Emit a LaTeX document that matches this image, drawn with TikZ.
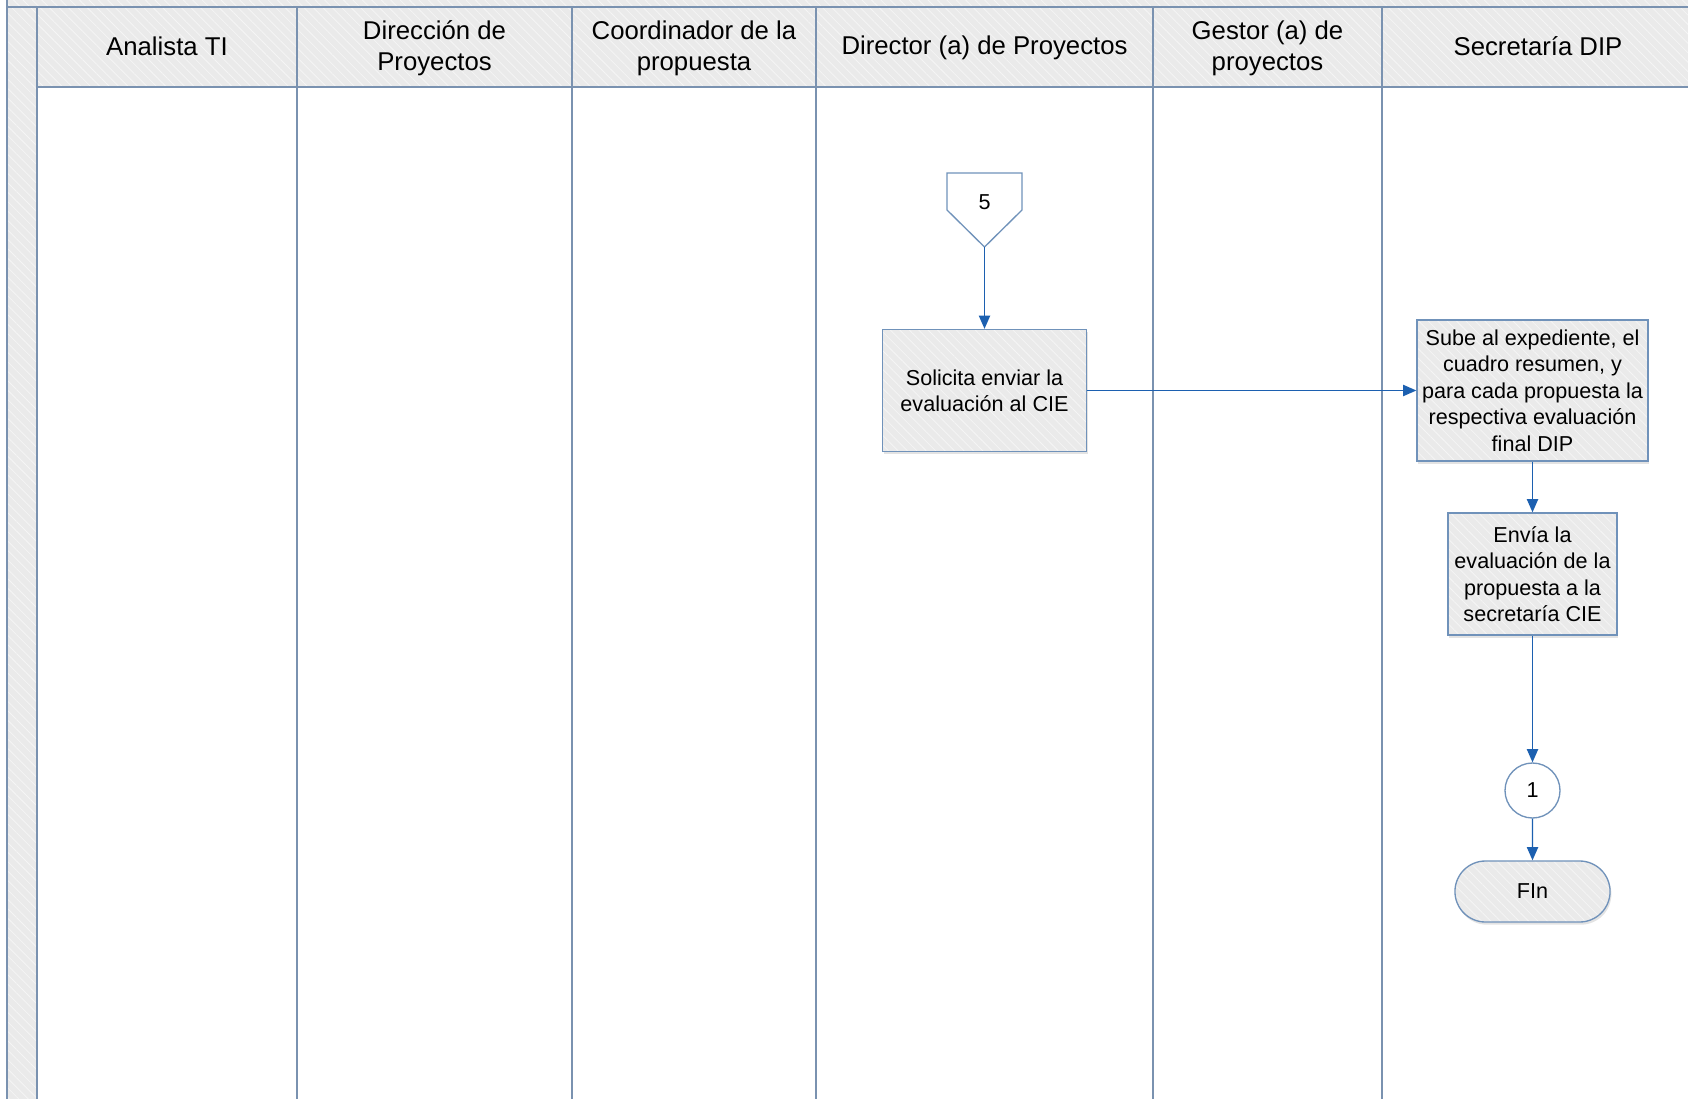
\documentclass[tikz,border=0pt]{standalone}
\usepackage{fontspec}
\setmainfont{Liberation Sans}
\usetikzlibrary{arrows.meta,shapes.misc,shadows,patterns.meta}

\definecolor{laneline}{RGB}{122,146,176}
\definecolor{shapeline}{RGB}{112,146,186}
\definecolor{flowblue}{RGB}{28,96,176}
\definecolor{panegrey}{RGB}{234,234,234}
\definecolor{hatchgrey}{RGB}{245,245,245}

\tikzset{every picture/.style={line width=0.75pt}}
\tikzset{
  hatched/.style={preaction={fill=panegrey},pattern={Lines[angle=-45,distance=5pt,line width=0.6pt]},pattern color=hatchgrey},
  softshadow/.style={drop shadow={opacity=0.22,shadow xshift=1pt,shadow yshift=-2pt}},
  lanehead/.style={font=\fontsize{19.3}{23.2}\selectfont,align=center},
  procbox/.style={draw=shapeline,line width=1pt,softshadow,hatched,align=center,inner sep=2pt,font=\fontsize{16.2}{19.8}\selectfont},
  connector/.style={circle,draw=shapeline,line width=1pt,fill=white,minimum size=41.25pt,inner sep=0pt,font=\fontsize{16.2}{19.8}\selectfont},
  terminal/.style={rounded rectangle,draw=shapeline,line width=1pt,softshadow,hatched,minimum width=123pt,minimum height=45.75pt,font=\fontsize{16.2}{19.8}\selectfont},
  flow/.style={draw=flowblue,line width=1pt,-{Triangle[length=10pt,width=8.5pt]}}
}

\begin{document}
\begin{tikzpicture}[x=0.75pt,y=0.75pt,yscale=-1,xscale=1]
\useasboundingbox (0,0) rectangle (1688,1099);

%Pool: top band and left strip
\path [hatched] (7,0) rectangle (1700,7);
\path [hatched] (7,7) rectangle (37,1110);
\draw [laneline,line width=1pt] (7,0) -- (7,1110);
\draw [laneline,line width=1pt] (7,7) -- (1700,7);

%Lanes
\foreach \xa/\xb in {37/297,297/572,572/816,816/1153,1153/1382,1382/1694}{
  \draw [laneline,line width=1pt,hatched] (\xa,7) rectangle (\xb,87);
  \draw [laneline,line width=1pt,fill=white] (\xa,87) rectangle (\xb,1110);
}

% Lane headers
\node [lanehead] (hAnalista) at (167,46) {Analista TI};
\node [lanehead] (hDireccion) at (434.5,48) {Dirección de\\Proyectos};
\node [lanehead] (hCoordinador) at (694,48) {Coordinador de la\\propuesta};
\node [lanehead] (hDirector) at (984.5,48) {Director (a) de Proyectos};
\node [lanehead] (hGestor) at (1267.5,48) {Gestor (a) de\\proyectos};
\node [lanehead] (hSecretaria) at (1538,46) {Secretaría DIP};

%Off-page connector 5
\draw [shapeline,line width=1pt,fill=white] (947,173) -- (1022,173) -- (1022,210) -- (984.5,247) -- (947,210) -- cycle;
\node [font=\fontsize{16.2}{19.8}\selectfont] (off5) at (984.5,202) {5};
\coordinate (off5tip) at (984.5,247);

%Process boxes
\node [procbox,minimum width=153pt,minimum height=91.5pt] (solicita) at (984.5,390.5) {Solicita enviar la\\evaluación al CIE};
\node [procbox,minimum width=173.25pt,minimum height=105.75pt] (sube) at (1532.5,390.5) {Sube al expediente, el\\cuadro resumen, y\\para cada propuesta la\\respectiva evaluación\\final DIP};
\node [procbox,minimum width=126.75pt,minimum height=91.5pt] (envia) at (1532.5,574) {Envía la\\evaluación de la\\propuesta a la\\secretaría CIE};

%Connector 1 and end
\node [connector] (con1) at (1532.5,790.5) {1};
\node [terminal] (fin) at (1532.5,891.5) {FIn};

%Flows
\draw [flow] (off5tip) -- (solicita);
\draw [flow] (solicita) -- (sube);
\draw [flow] (sube) -- (envia);
\draw [flow] (envia) -- (con1);
\draw [flow] (con1) -- (fin);

\end{tikzpicture}
\end{document}
